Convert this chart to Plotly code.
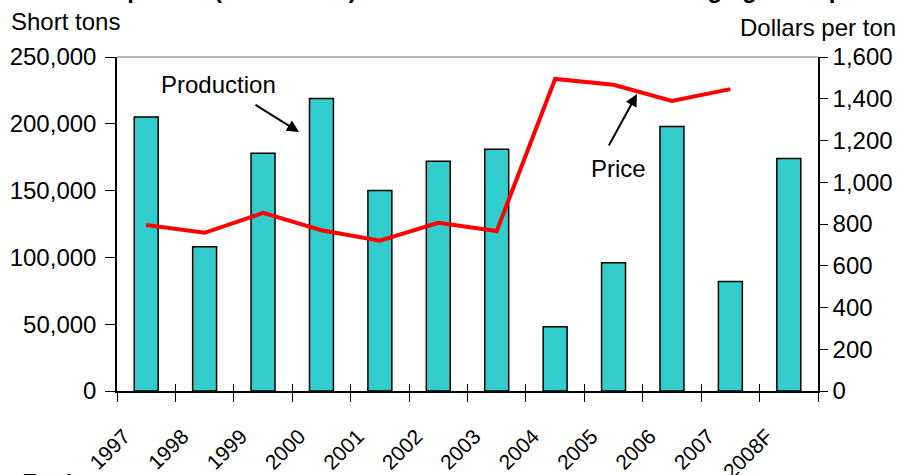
import plotly.graph_objects as go

years = ["1997", "1998", "1999", "2000", "2001", "2002", "2003", "2004", "2005", "2006", "2007", "2008F"]
production = [205000, 108000, 178000, 219000, 150000, 172000, 181000, 48000, 96000, 198000, 82000, 174000]
price = [795, 758, 853, 770, 720, 806, 766, 1495, 1467, 1390, 1446, None]

FONT = "Liberation Sans, Arial, sans-serif"
W, H = 902, 475
L, R, T, B = 117, 84, 57, 84
PW, PH = W - L - R, H - T - B

def px(x):
    return (x - L) / PW

def py(y):
    return (H - B - y) / PH

fig = go.Figure()
fig.add_trace(go.Bar(
    x=years, y=production, name="Production",
    marker=dict(color="#33CCCC", line=dict(color="black", width=1.5)),
    yaxis="y",
))
fig.add_trace(go.Scatter(
    x=years, y=price, name="Price", mode="lines",
    line=dict(color="#FF0000", width=4),
    yaxis="y2", connectgaps=False,
))
# helper (invisible) trace so the overlay axis draws inner tick marks
fig.add_trace(go.Scatter(
    x=years, y=[None] * len(years), xaxis="x2", yaxis="y",
    mode="lines", hoverinfo="skip", showlegend=False,
))

fig.update_layout(
    width=W, height=H,
    margin=dict(l=L, r=R, t=T, b=B, pad=0, autoexpand=False),
    paper_bgcolor="white", plot_bgcolor="white",
    showlegend=False,
    bargap=0.59,
    font=dict(family=FONT, size=24, color="black"),
    xaxis=dict(
        type="category", tickangle=-45, tickson="boundaries",
        ticks="outside", ticklen=9, tickcolor="black", tickwidth=1,
        showline=True, linecolor="black", linewidth=1.5,
        showgrid=False, zeroline=False, automargin=False,
        ticklabelstandoff=23, ticklabelshift=-22,
        tickfont=dict(size=21),
    ),
    xaxis2=dict(
        type="category", overlaying="x", anchor="y", side="bottom",
        tickson="boundaries", ticks="inside", ticklen=7, tickcolor="black",
        tickwidth=1, showticklabels=False, showline=False, showgrid=False,
        zeroline=False, automargin=False, range=[-0.5, 11.5],
    ),
    yaxis=dict(
        range=[0, 250000], dtick=50000, tickformat=",",
        ticks="outside", ticklen=10, tickcolor="black",
        showline=True, linecolor="black", linewidth=1.5,
        showgrid=False, zeroline=False, automargin=False,
        ticklabelstandoff=4,
        tickfont=dict(size=24),
    ),
    yaxis2=dict(
        range=[0, 1600], dtick=200, tickformat=",",
        overlaying="y", side="right",
        ticks="outside", ticklen=8, tickcolor="black",
        showline=True, linecolor="black", linewidth=1.5,
        showgrid=False, zeroline=False, automargin=False,
        tickfont=dict(size=24),
    ),
    shapes=[dict(type="line", xref="paper", yref="paper", x0=0, x1=1, y0=1, y1=1,
                 line=dict(color="#A0A0A0", width=1.5))],
)

ann = [
    dict(text="<b>California prunes (dried basis): Production and season-average grower price</b>",
         x=px(8), y=py(5), xanchor="left", yanchor="bottom", font=dict(size=24)),
    dict(text="Short tons", x=px(9), y=py(21), xanchor="left", yanchor="middle"),
    dict(text="Dollars per ton", x=px(898), y=py(27), xanchor="right", yanchor="middle"),
    dict(text="F = forecast", x=px(20), y=py(467), xanchor="left", yanchor="top"),
    dict(text="Production", x=px(218), y=py(84), xanchor="center", yanchor="middle"),
    dict(text="Price", x=px(618), y=py(168), xanchor="center", yanchor="middle"),
    dict(text="", x=px(299), y=py(132), ax=-45, ay=-28, showarrow=True,
         arrowhead=2, arrowsize=1.2, arrowwidth=2, arrowcolor="black"),
    dict(text="", x=px(637), y=py(94), ax=-29, ay=53, showarrow=True,
         arrowhead=2, arrowsize=1.2, arrowwidth=2, arrowcolor="black"),
]
for a in ann:
    a.setdefault("xref", "paper")
    a.setdefault("yref", "paper")
    a.setdefault("showarrow", False)
fig.update_layout(annotations=ann)

fig.write_html("out.html")
